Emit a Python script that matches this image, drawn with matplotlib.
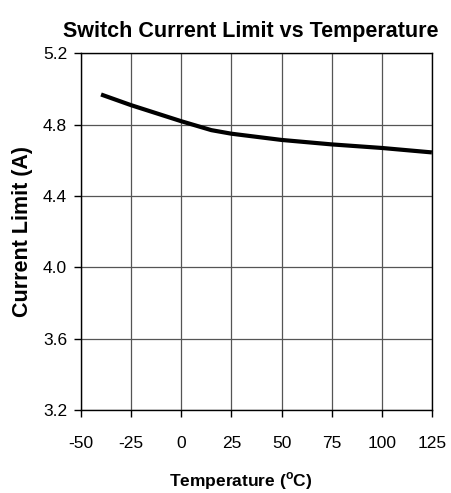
import matplotlib
matplotlib.use("Agg")
import matplotlib.pyplot as plt

plt.rcParams["font.family"] = ["Liberation Sans", "DejaVu Sans"]
plt.rcParams["mathtext.fontset"] = "custom"
plt.rcParams["mathtext.bf"] = "Liberation Sans:bold"
plt.rcParams["mathtext.rm"] = "Liberation Sans"
plt.rcParams["axes.unicode_minus"] = False

# ── Data ──────────────────────────────────────────────
temperature = [-40, -25, 0, 15, 25, 50, 60, 75, 100, 125]
current_limit = [4.97, 4.91, 4.82, 4.77, 4.75, 4.715, 4.705, 4.69, 4.67, 4.645]

x_ticks = [-50, -25, 0, 25, 50, 75, 100, 125]
y_ticks = [3.2, 3.6, 4.0, 4.4, 4.8, 5.2]

fig = plt.figure(figsize=(4.51, 4.93), dpi=100)
ax = fig.add_axes([0.1796, 0.1684, 0.778, 0.7231])

ax.plot(temperature, current_limit, color="black", lw=3.0, solid_capstyle="butt")

ax.set_xlim(-50, 125)
ax.set_ylim(3.2, 5.2)
ax.set_xticks(x_ticks)
ax.set_xticklabels([str(v) for v in x_ticks])
ax.set_yticks(y_ticks)
ax.set_yticklabels([f"{v:.1f}" for v in y_ticks])
ax.grid(True, color="#555555", lw=0.9)
ax.set_axisbelow(True)
for s in ax.spines.values():
    s.set_color("black")
    s.set_linewidth(1.0)
ax.tick_params(direction="out", length=5, width=1.0, labelsize=12.5)
ax.tick_params(axis="x", pad=14)
ax.tick_params(axis="y", pad=5)

ax.set_title("Switch Current Limit vs Temperature", fontsize=15.5, fontweight="bold", pad=12, x=0.485)
ax.set_xlabel(r"Temperature ($^{\mathbf{o}}$C)", fontsize=12.5, fontweight="bold", labelpad=13.5, x=0.456)
ax.set_ylabel("Current Limit (A)", fontsize=15.5, fontweight="bold", labelpad=7)

fig.savefig("out.png", dpi=100)
